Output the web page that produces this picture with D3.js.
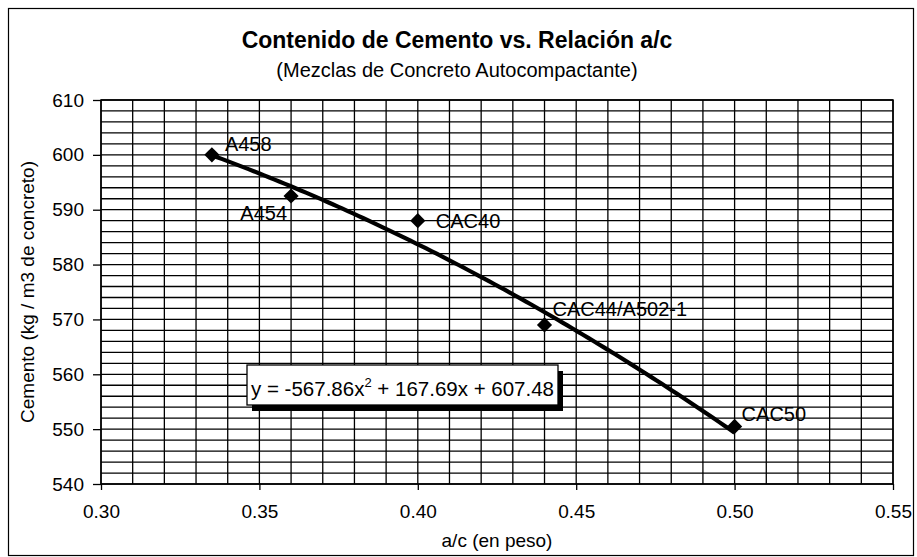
<!DOCTYPE html>
<html>
<head>
<meta charset="utf-8">
<script src="https://cdn.jsdelivr.net/npm/d3@7"></script>
<style>
  html, body { margin: 0; padding: 0; background: #fff; }
  svg { display: block; }
  text { font-family: "Liberation Sans", Arial, sans-serif; fill: #000; }
</style>
</head>
<body>
<svg id="chart" width="917" height="557"></svg>
<script>
// ---- data ----
const mixLabels = ["A458", "A454", "CAC40", "CAC44/A502-1", "CAC50"];
const acRatio = [0.335, 0.36, 0.40, 0.44, 0.50];
const cement = [600, 592.5, 588, 569, 550.5];
const xTickValues = [0.30, 0.35, 0.40, 0.45, 0.50, 0.55];
const yTickValues = [540, 550, 560, 570, 580, 590, 600, 610];
const trendCoefficients = [-567.86, 167.69, 607.48]; // a x^2 + b x + c
const titleText = "Contenido de Cemento vs. Relación a/c";
const subtitleText = "(Mezclas de Concreto Autocompactante)";
const xAxisTitle = "a/c (en peso)";
const yAxisTitle = "Cemento (kg / m3 de concreto)";

// ---- layout ----
const svg = d3.select("#chart");
const plot = { left: 101, right: 893, top: 100, bottom: 484 };

const x = d3.scaleLinear().domain([0.30, 0.55]).range([plot.left, plot.right]);
const y = d3.scaleLinear().domain([540, 610]).range([plot.bottom, plot.top]);

// outer frame
svg.append("rect")
  .attr("x", 8.5).attr("y", 8.5).attr("width", 905).attr("height", 547)
  .attr("fill", "#fff").attr("stroke", "#000").attr("stroke-width", 1.2);

// titles
svg.append("text").attr("x", 457).attr("y", 48).attr("text-anchor", "middle")
  .style("font-size", "23px").style("font-weight", "bold").text(titleText);
svg.append("text").attr("x", 457).attr("y", 77).attr("text-anchor", "middle")
  .style("font-size", "20px").text(subtitleText);

// grid
const g = svg.append("g");
const minorX = d3.range(0, 26).map(i => 0.30 + i * 0.01);
const minorY = d3.range(0, 36).map(i => 540 + i * 2);
g.selectAll("line.gx").data(minorX).join("line")
  .attr("x1", d => x(d)).attr("x2", d => x(d))
  .attr("y1", plot.top).attr("y2", plot.bottom)
  .attr("stroke", "#000").attr("stroke-width", 1.3);
g.selectAll("line.gy").data(minorY).join("line")
  .attr("x1", plot.left).attr("x2", plot.right)
  .attr("y1", d => y(d)).attr("y2", d => y(d))
  .attr("stroke", "#000").attr("stroke-width", 1.3);
g.append("rect")
  .attr("x", plot.left).attr("y", plot.top)
  .attr("width", plot.right - plot.left).attr("height", plot.bottom - plot.top)
  .attr("fill", "none").attr("stroke", "#000").attr("stroke-width", 1.5);

// axes
const yAxis = d3.axisLeft(y).tickValues(yTickValues).tickSize(8).tickPadding(9).tickFormat(d3.format("d"));
const xAxis = d3.axisBottom(x).tickValues(xTickValues).tickSize(6).tickPadding(15).tickFormat(d3.format(".2f"));
const ya = svg.append("g").attr("transform", `translate(${plot.left},0)`).call(yAxis);
const xa = svg.append("g").attr("transform", `translate(0,${plot.bottom})`).call(xAxis);
[ya, xa].forEach(a => {
  a.select(".domain").remove();
  a.selectAll(".tick line").attr("stroke", "#000").attr("stroke-width", 1.3);
  a.selectAll(".tick text").style("font-size", "19px").attr("fill", "#000")
    .style("font-family", "'Liberation Sans', Arial, sans-serif");
});

// axis titles
svg.append("text").attr("x", (plot.left + plot.right) / 2).attr("y", 547)
  .attr("text-anchor", "middle").style("font-size", "19px").text(xAxisTitle);
svg.append("text")
  .attr("transform", `translate(34,${(plot.top + plot.bottom) / 2}) rotate(-90)`)
  .attr("text-anchor", "middle").style("font-size", "19px").text(yAxisTitle);

// trendline (polynomial order 2 shown in the chart)
const poly = v => trendCoefficients[0] * v * v + trendCoefficients[1] * v + trendCoefficients[2];
const xmin = d3.min(acRatio), xmax = d3.max(acRatio);
const trendPts = d3.range(0, 101).map(i => xmin + (xmax - xmin) * i / 100);
svg.append("path").datum(trendPts)
  .attr("d", d3.line().x(d => x(d)).y(d => y(poly(d))))
  .attr("fill", "none").attr("stroke", "#000").attr("stroke-width", 4.2)
  .attr("stroke-linecap", "butt");

// markers (diamonds)
const points = acRatio.map((a, i) => ({ a, c: cement[i], label: mixLabels[i] }));
svg.selectAll("path.pt").data(points).join("path")
  .attr("d", d3.symbol(d3.symbolSquare, 115))
  .attr("transform", d => `translate(${x(d.a)},${y(d.c)}) rotate(45)`)
  .attr("fill", "#000");

// point labels
const labelOffsets = [
  { dx: 13, dy: -4, anchor: "start" },
  { dx: -4, dy: 24, anchor: "end" },
  { dx: 18, dy: 7, anchor: "start" },
  { dx: 8, dy: -9, anchor: "start" },
  { dx: 7, dy: -5, anchor: "start" }
];
svg.selectAll("text.pl").data(points).join("text")
  .attr("x", (d, i) => x(d.a) + labelOffsets[i].dx)
  .attr("y", (d, i) => y(d.c) + labelOffsets[i].dy)
  .attr("text-anchor", (d, i) => labelOffsets[i].anchor)
  .style("font-size", "20px").text(d => d.label);

// equation box with shadow
const box = { x: 247, y: 365, w: 311, h: 40 };
svg.append("rect").attr("x", box.x + 5).attr("y", box.y + 6).attr("width", box.w).attr("height", box.h).attr("fill", "#000");
svg.append("rect").attr("x", box.x).attr("y", box.y).attr("width", box.w).attr("height", box.h)
  .attr("fill", "#fff").attr("stroke", "#000").attr("stroke-width", 1.3);
const eq = svg.append("text").attr("x", box.x + 4).attr("y", box.y + 31).style("font-size", "20.5px");
eq.append("tspan").text(`y = ${trendCoefficients[0].toFixed(2)}x`);
eq.append("tspan").attr("dy", -9).style("font-size", "13px").text("2");
eq.append("tspan").attr("dy", 9).text(` + ${trendCoefficients[1].toFixed(2)}x + ${trendCoefficients[2].toFixed(2)}`);
</script>
</body>
</html>
